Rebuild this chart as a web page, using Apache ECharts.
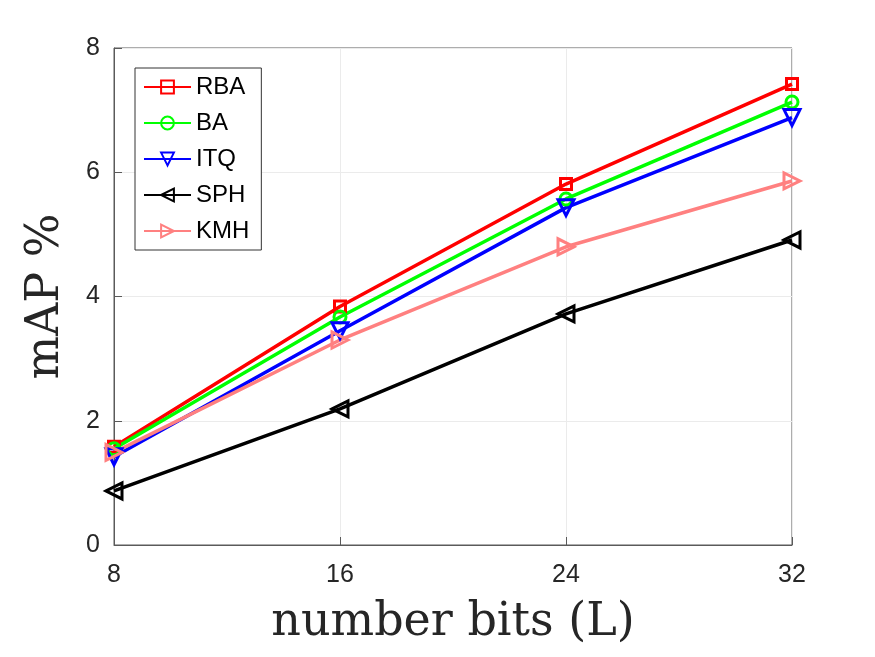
<!DOCTYPE html>
<html>
<head>
<meta charset="utf-8">
<script src="https://cdn.jsdelivr.net/npm/echarts@6/dist/echarts.min.js"></script>
<style>
html, body { margin: 0; padding: 0; background: #fff; }
#chart { width: 875px; height: 657px; }
</style>
</head>
<body>
<div id="chart"></div>
<script>
const bits = [8, 16, 24, 32]
const yTicks = [0, 2, 4, 6, 8]
const rba = [1.58, 3.84, 5.81, 7.42]
const ba = [1.55, 3.67, 5.57, 7.13]
const itq = [1.42, 3.45, 5.43, 6.88]
const sph = [0.87, 2.19, 3.72, 4.91]
const kmh = [1.49, 3.30, 4.80, 5.86]

let myChart = echarts.init(document.getElementById('chart'))

function line (name, data, color, symbol, rotate, size) {
  return {
    name: name,
    type: 'line',
    data: bits.map((b, i) => [b, data[i]]),
    symbol: symbol,
    symbolRotate: rotate,
    symbolSize: size,
    showAllSymbol: true,
    lineStyle: { color: color, width: 3.5 },
    itemStyle: { color: 'transparent', borderColor: color, borderWidth: 3 }
  }
}

let option = {
  backgroundColor: '#fff',
  animation: false,
  grid: {
    left: 114,
    right: 83,
    top: 48,
    bottom: 112,
    show: true,
    borderColor: '#5a5a5a',
    borderWidth: 1
  },
  legend: {
    orient: 'vertical',
    left: 135,
    top: 68,
    padding: [7, 12, 7, 8],
    itemGap: 12,
    itemWidth: 47,
    itemHeight: 16,
    borderColor: '#333',
    borderWidth: 1,
    backgroundColor: '#fff',
    textStyle: { fontFamily: 'Liberation Sans', fontSize: 24, color: '#000' },
    data: ['RBA', 'BA', 'ITQ', 'SPH', 'KMH']
  },
  xAxis: {
    type: 'value',
    min: 8,
    max: 32,
    interval: 8,
    name: 'number bits (L)',
    nameLocation: 'middle',
    nameGap: 55,
    nameTextStyle: { fontFamily: 'DejaVu Serif', fontSize: 46, color: '#262626' },
    axisLine: { lineStyle: { color: '#5a5a5a' } },
    axisTick: { inside: true, length: 8, lineStyle: { color: '#5a5a5a' } },
    axisLabel: { fontFamily: 'Liberation Sans', fontSize: 25, color: '#262626', margin: 18 },
    splitLine: { show: true, lineStyle: { color: '#ebebeb' } }
  },
  yAxis: {
    type: 'value',
    min: 0,
    max: 8,
    interval: 2,
    name: 'mAP %',
    nameLocation: 'middle',
    nameGap: 45,
    nameTextStyle: { fontFamily: 'DejaVu Serif', fontSize: 46, color: '#262626' },
    axisLine: { show: true, lineStyle: { color: '#5a5a5a' } },
    axisTick: { show: true, inside: true, length: 8, lineStyle: { color: '#5a5a5a' } },
    axisLabel: {
      fontFamily: 'Liberation Sans',
      fontSize: 25,
      color: '#262626',
      margin: 14,
      formatter: v => (yTicks.indexOf(v) >= 0 ? String(v) : '')
    },
    splitLine: { show: true, lineStyle: { color: '#ebebeb' } }
  },
  series: [
    line('RBA', rba, '#ff0000', 'rect', 0, 11),
    line('BA', ba, '#00ff00', 'circle', 0, 12),
    line('ITQ', itq, '#0000ff', 'triangle', 180, 16),
    line('SPH', sph, '#000000', 'triangle', 90, 16),
    line('KMH', kmh, '#ff8080', 'triangle', -90, 16)
  ]
}
myChart.setOption(option, true)
</script>
</body>
</html>
